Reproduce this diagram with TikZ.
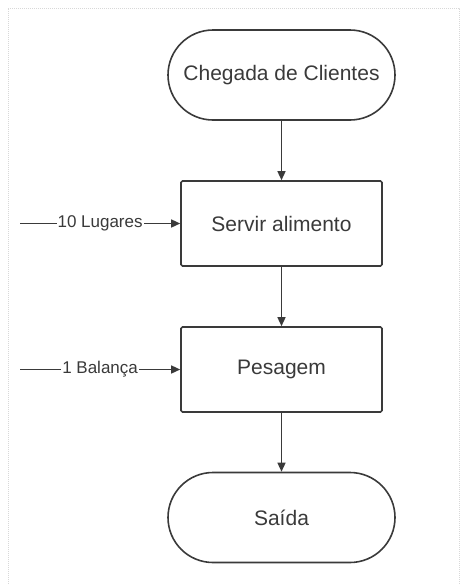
\documentclass[tikz,border=0pt]{standalone}
\usepackage{fontspec}
\setmainfont{Liberation Sans}
\usetikzlibrary{arrows.meta}
\definecolor{ink}{HTML}{3A3A3A}
\definecolor{framegray}{HTML}{D8D8D8}
\begin{document}
\begin{tikzpicture}[x=1pt,y=-1pt,
  terminal/.style={draw=ink, line width=1.6pt, rounded corners=45pt,
    minimum width=227pt, minimum height=90pt, inner sep=0pt,
    text=ink, font=\fontsize{21}{24}\selectfont},
  procbox/.style={draw=ink, line width=1.6pt, rounded corners=1.5pt,
    minimum width=201pt, minimum height=85pt, inner sep=0pt,
    text=ink, font=\fontsize{21}{24}\selectfont},
  flow/.style={draw=ink, line width=1.4pt, -{Triangle[length=9pt,width=8pt]}},
  reslabel/.style={fill=white, inner sep=1pt, text=ink,
    font=\fontsize{17}{20}\selectfont}]
  \useasboundingbox (0,0) rectangle (461,584);
  % page frame
  \draw[framegray, line width=1pt, densely dotted] (8,584) -- (8,8) -- (459,8) -- (459,584);

  \node[terminal] (arr) at (281.5,75) {Chegada de Clientes};
  \node[procbox] (serve) at (281.5,223.5) {Servir alimento};
  \node[procbox] (weigh) at (281.5,369.5) {Pesagem};
  \node[terminal] (out) at (281.5,517.5) {Saída};

  \coordinate (r1) at (20,223.5);
  \coordinate (r2) at (20,369.5);

  \draw[flow] (arr) -- (serve);
  \draw[flow] (serve) -- (weigh);
  \draw[flow] (weigh) -- (out);
  \draw[flow] (r1) -- node[reslabel] {10 Lugares} (serve);
  \draw[flow] (r2) -- node[reslabel] {1 Balança} (weigh);
\end{tikzpicture}
\end{document}
